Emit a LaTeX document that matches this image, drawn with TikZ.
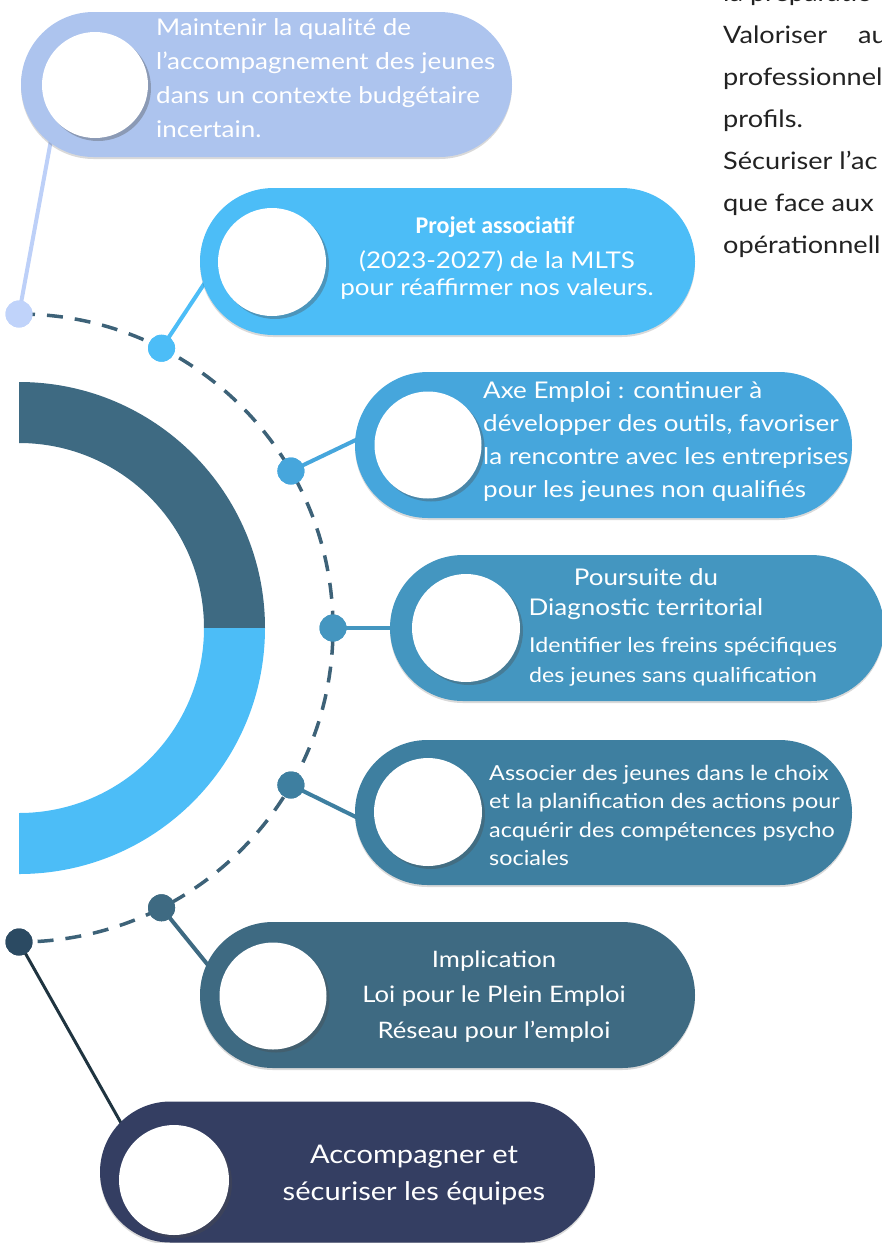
\documentclass[tikz,border=0pt]{standalone}
\usepackage{fontspec}
\setmainfont{Lato}[FakeStretch=1.13]
\newfontfamily\carl{Carlito}
\usetikzlibrary{shadows,shapes.misc}
\definecolor{pA}{HTML}{ADC4EE}
\definecolor{pB}{HTML}{4CBDF7}
\definecolor{pC}{HTML}{46A6DC}
\definecolor{pD}{HTML}{4496C0}
\definecolor{pE}{HTML}{3E7FA0}
\definecolor{pF}{HTML}{3E6A82}
\definecolor{pG}{HTML}{343E62}
\definecolor{dA}{HTML}{C0D3FA}
\definecolor{dG}{HTML}{2B4A62}
\definecolor{lA}{HTML}{BDD0F8}
\definecolor{lG}{HTML}{1F3440}
\definecolor{dashcol}{HTML}{3D6278}
\definecolor{band}{HTML}{3E6A82}
\definecolor{bodytext}{HTML}{222222}
\begin{document}
\begin{tikzpicture}[x=1pt,y=-1pt,
  pillbox/.style={rounded rectangle, inner sep=0pt, fill=#1,
    drop shadow={shadow xshift=0pt, shadow yshift=-2pt, opacity=.15, fill=black}},
  disc/.style={circle, fill=white, inner sep=0pt, minimum size=#1,
    drop shadow={shadow xshift=3pt, shadow yshift=-3pt, opacity=.35, fill=black!70}},
  dot/.style={circle, fill=#1, inner sep=0pt, minimum size=27pt},
  link/.style={draw=#1, line width=4pt},
  txt/.style={text=white, inner sep=0pt, align=left, anchor=base west},
  ctxt/.style={text=white, inner sep=0pt, align=center, anchor=base},
]
\useasboundingbox (0,0) rectangle (882,1243);
\clip (0,0) rectangle (882,1243);
\coordinate (c) at (19,628);

% dashed arc
\draw[dashcol, line width=3.5pt, dash pattern=on 16pt off 12pt]
  (19,314) arc[start angle=-90, end angle=90, radius=314];

% thick half ring
\fill[band] (19,382) arc[start angle=-90, end angle=0, radius=246]
  -- (204,628) arc[start angle=0, end angle=-90, radius=185] -- cycle;
\fill[pB] (265,628) arc[start angle=0, end angle=90, radius=246]
  -- (19,813) arc[start angle=90, end angle=0, radius=185] -- cycle;

% dots
\node[dot=dA] (d1) at ([shift={(-90:314)}]c) {};
\node[dot=pB] (d2) at ([shift={(-63:314)}]c) {};
\node[dot=pC] (d3) at ([shift={(-30:314)}]c) {};
\node[dot=pD] (d4) at ([shift={(0:314)}]c) {};
\node[dot=pE] (d5) at ([shift={(30:314)}]c) {};
\node[dot=pF] (d6) at ([shift={(63:314)}]c) {};
\node[dot=dG] (d7) at ([shift={(90:314)}]c) {};

% connector ends
\coordinate (e1) at (51,140);
\coordinate (e2) at (208,278);
\coordinate (e3) at (362,437);
\coordinate (e4) at (400,628);
\coordinate (e5) at (362,820);
\coordinate (e6) at (212,970);
\coordinate (e7) at (125,1130);
\draw[link=lA] (d1.center) -- (e1);
\draw[link=pB] (d2.center) -- (e2);
\draw[link=pC] (d3.center) -- (e3);
\draw[link=pD] (d4.center) -- (e4);
\draw[link=pE] (d5.center) -- (e5);
\draw[link=pF] (d6.center) -- (e6);
\draw[lG, line width=3pt] (d7.center) -- (e7);

% redraw dots over connectors
\foreach \n/\col in {d1/dA,d2/pB,d3/pC,d4/pD,d5/pE,d6/pF,d7/dG}
  \fill[\col] (\n) circle[radius=13.5];

% pills
\node[pillbox=pA, minimum width=491pt, minimum height=145pt] (p1) at (266.5,84.5) {};
\node[pillbox=pB, minimum width=495pt, minimum height=147pt] (p2) at (447.5,261.5) {};
\node[pillbox=pC, minimum width=497pt, minimum height=146pt] (p3) at (603.5,445) {};
\node[pillbox=pD, minimum width=494pt, minimum height=146pt] (p4) at (637,628) {};
\node[pillbox=pE, minimum width=497pt, minimum height=145pt] (p5) at (603.5,812.5) {};
\node[pillbox=pF, minimum width=495pt, minimum height=146pt] (p6) at (447.5,995) {};
\node[pillbox=pG, minimum width=495pt, minimum height=141pt] (p7) at (347.5,1172) {};

% white discs
\node[disc=106pt] (c1) at (95,85) {};
\node[disc=108pt] (c2) at (272,262) {};
\node[disc=107pt] (c3) at (428,445) {};
\node[disc=108pt] (c4) at (466,628) {};
\node[disc=108pt] (c5) at (428,812) {};
\node[disc=107pt] (c6) at (273,996) {};
\node[disc=110pt] (c7) at (174,1180) {};

% texts (anchor = baseline of the last line)
\node[txt, font=\fontsize{23}{34}\selectfont] (t1) at (156,137)
  {Maintenir la qualité de\\l’accompagnement des jeunes\\dans un contexte budgétaire\\incertain.};
\node[ctxt, font=\fontsize{24}{27}\selectfont\carl\bfseries] (t2a) at (495,233) {Projet associatif};
\node[ctxt, font=\fontsize{23}{27}\selectfont] (t2) at (497,295)
  {(2023-2027) de la MLTS\\pour réaffirmer nos valeurs.};
\node[txt, font=\fontsize{23}{33}\selectfont] (t3) at (483,497)
  {Axe Emploi : continuer à\\développer des outils, favoriser\\la rencontre avec les entreprises\\pour les jeunes non qualifiés};
\node[ctxt, font=\fontsize{23}{30}\selectfont] (t4a) at (646,615)
  {Poursuite du\\Diagnostic territorial};
\node[txt, font=\fontsize{20.5}{30}\selectfont] (t4b) at (529,682)
  {Identifier les freins spécifiques\\des jeunes sans qualification};
\node[txt, font=\fontsize{20.7}{28.5}\selectfont] (t5) at (489,865.5)
  {Associer des jeunes dans le choix\\et la planification des actions pour\\acquérir des compétences psycho\\sociales};
\node[ctxt, font=\fontsize{22.7}{35.5}\selectfont] (t6) at (494,1038)
  {Implication\\Loi pour le Plein Emploi\\Réseau pour l’emploi};
\node[ctxt, font=\fontsize{25.7}{37}\selectfont] (t7) at (414,1200)
  {Accompagner et\\sécuriser les équipes};
\node[txt, text=bodytext, font=\fontsize{24}{42}\selectfont] (t8) at (723,253)
  {la préparatio\\\makebox[135pt][l]{Valoriser}au\\professionnel\\profils.\\Sécuriser l’ac\\que face aux\\opérationnell};
\end{tikzpicture}
\end{document}
